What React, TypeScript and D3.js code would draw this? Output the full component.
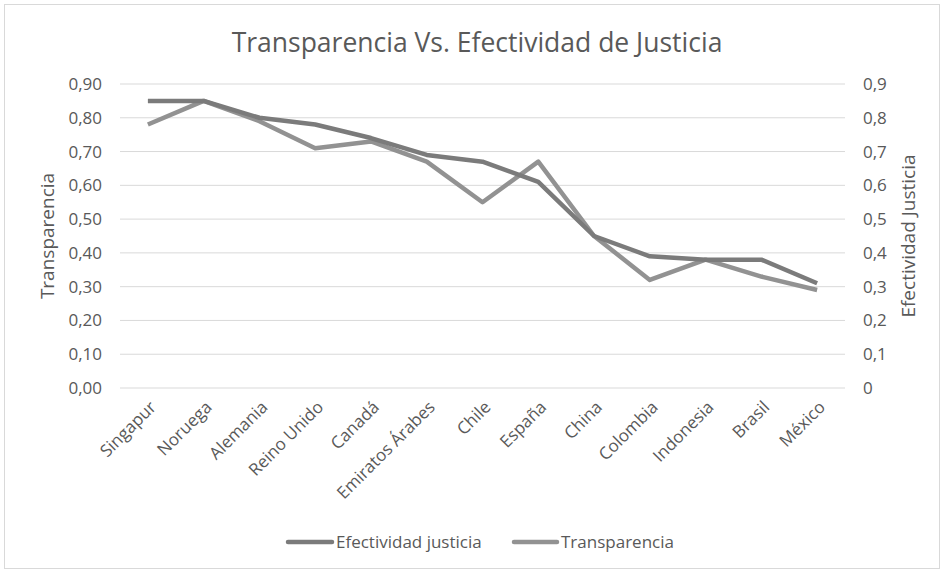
import React from "react";
import * as d3 from "d3";

const categories = ["Singapur", "Noruega", "Alemania", "Reino Unido", "Canadá", "Emiratos Árabes", "Chile", "España", "China", "Colombia", "Indonesia", "Brasil", "México"];
const efectividad = [0.85, 0.85, 0.8, 0.78, 0.74, 0.69, 0.67, 0.61, 0.45, 0.39, 0.38, 0.38, 0.31];
const transparencia = [0.78, 0.85, 0.79, 0.71, 0.73, 0.67, 0.55, 0.67, 0.45, 0.32, 0.38, 0.33, 0.29];
const leftTicks = [0, 0.1, 0.2, 0.3, 0.4, 0.5, 0.6, 0.7, 0.8, 0.9];
const rightTicks = [0, 0.1, 0.2, 0.3, 0.4, 0.5, 0.6, 0.7, 0.8, 0.9];

const W = 944, H = 573;
const plot = { left: 120, right: 845, top: 84, bottom: 388 };
const font = "'Open Sans', sans-serif";
const txt = "#595959";

export default function App() {
  const x = d3.scaleBand<string>().domain(categories).range([plot.left, plot.right]);
  const y = d3.scaleLinear().domain([0, 0.9]).range([plot.bottom, plot.top]);
  const cx = (c: string) => (x(c) as number) + x.bandwidth() / 2;
  const line = d3.line<number>().x((_, i) => cx(categories[i])).y((v) => y(v));
  const fmtL = (v: number) => v.toFixed(2).replace(".", ",");
  const fmtR = (v: number) => (v === 0 ? "0" : v.toFixed(1).replace(".", ","));
  return (
    <svg width={W} height={H} style={{ position: "absolute", left: 0, top: 0, background: "#fff" }} fontFamily={font}>
      <rect x={4.5} y={4.5} width={W - 9} height={H - 9} fill="#fff" stroke="#d9d9d9" />
      <text x={477} y={52} textAnchor="middle" fontSize={26.5} fill={txt}>Transparencia Vs. Efectividad de Justicia</text>
      {leftTicks.map((t) => (
        <line key={"g" + t} x1={plot.left} x2={plot.right} y1={y(t)} y2={y(t)} stroke="#d9d9d9" strokeWidth={1} />
      ))}
      {leftTicks.map((t) => (
        <text key={"l" + t} x={102} y={y(t)} dy="0.35em" textAnchor="end" fontSize={17} fill={txt}>{fmtL(t)}</text>
      ))}
      {rightTicks.map((t) => (
        <text key={"r" + t} x={863} y={y(t)} dy="0.35em" textAnchor="start" fontSize={17} fill={txt}>{fmtR(t)}</text>
      ))}
      <text transform={`translate(47,${(plot.top + plot.bottom) / 2}) rotate(-90)`} textAnchor="middle" dy="0.35em" fontSize={19} fill={txt}>Transparencia</text>
      <text transform={`translate(908,${(plot.top + plot.bottom) / 2}) rotate(-90)`} textAnchor="middle" dy="0.35em" fontSize={19} fill={txt}>Efectividad Justicia</text>
      {categories.map((c) => (
        <text key={c} transform={`translate(${cx(c) + 5},${plot.bottom + 16}) rotate(-45)`} textAnchor="end" dy="0.35em" fontSize={17} fill={txt}>{c}</text>
      ))}
      <path d={line(transparencia) || ""} fill="none" stroke="#929292" strokeWidth={4.5} strokeLinejoin="round" />
      <path d={line(efectividad) || ""} fill="none" stroke="#7b7b7b" strokeWidth={4.5} strokeLinejoin="round" />
      <line x1={288} x2={332} y1={542} y2={542} stroke="#7b7b7b" strokeWidth={4.5} strokeLinecap="round" />
      <text x={336} y={542} dy="0.35em" fontSize={17} fill={txt}>Efectividad justicia</text>
      <line x1={514} x2={557} y1={542} y2={542} stroke="#929292" strokeWidth={4.5} strokeLinecap="round" />
      <text x={561} y={542} dy="0.35em" fontSize={17} fill={txt}>Transparencia</text>
    </svg>
  );
}
